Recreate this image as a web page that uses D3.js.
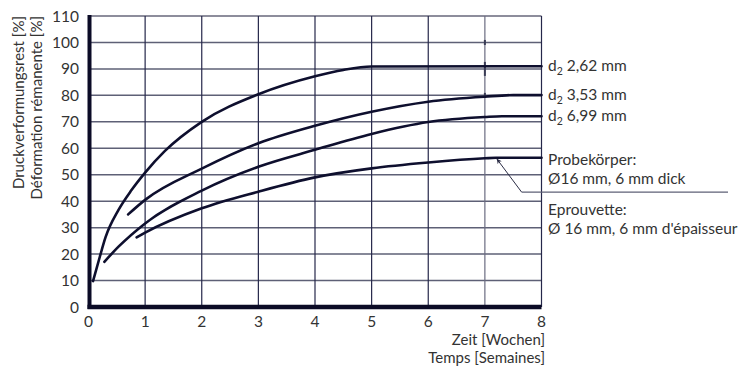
<!DOCTYPE html>
<html>
<head>
<meta charset="utf-8">
<script src="https://cdn.jsdelivr.net/npm/d3@7"></script>
<style>
  body { margin: 0; background: #fff; }
  svg { display: block; }
  text { font-family: Lato, "Open Sans", sans-serif; fill: #333; }
</style>
</head>
<body>
<svg id="chart" width="741" height="372"></svg>
<script>
// values (x in weeks, y in %)
var xTicks = [0, 1, 2, 3, 4, 5, 6, 7, 8];
var yTicks = [0, 10, 20, 30, 40, 50, 60, 70, 80, 90, 100, 110];

var curve262 = [[0.08, 9.8], [0.2, 19], [0.3, 26.3], [0.53, 36.7], [0.76, 44.2], [1, 50.8],
  [1.35, 59], [2, 70], [3, 80.4], [4, 87.2], [4.5, 89.6], [5, 90.9], [8, 91]];
var curve353 = [[0.7, 35], [1, 40.5], [2, 52.3], [3, 61.9], [4, 68.5], [5, 73.8], [6, 77.6],
  [7, 79.5], [7.5, 80.1], [8, 80.1]];
var curve699 = [[0.28, 17.1], [0.53, 22.8], [1, 31.6], [2, 44], [3, 53], [4, 59.4], [5, 65.4],
  [6, 69.9], [7, 71.8], [7.3, 72.1], [8, 72.1]];
var curveProbe = [[0.85, 26.3], [1, 28.1], [2, 37.3], [3, 43.6], [4, 49], [5, 52.4], [6, 54.6],
  [7, 56.2], [7.2, 56.4], [8, 56.4]];

var seriesLabels = ["2,62 mm", "3,53 mm", "6,99 mm"];
var seriesEnds = [91, 80.1, 72.1];
var noteLines = ["Probekörper:", "Ø16 mm, 6 mm dick", "Eprouvette:", "Ø 16 mm, 6 mm d'épaisseur"];
var arrowTip = [7.21, 56];
var arrowElbow = [7.65, 43.4];
var crossMarks = [[7, 100, 2.5], [7, 90, 7], [7, 80, 2.5]];

var svg = d3.select("#chart");
var plotLeft = 88.5, plotTop = 16, plotRight = 541.5, plotBottom = 307;

var x = d3.scaleLinear().domain([0, 8]).range([plotLeft, plotRight]);
var y = d3.scaleLinear().domain([0, 110]).range([plotBottom, plotTop]);

// grid
svg.append("g").selectAll("line")
  .data(yTicks.filter(function (d) { return d > 0; }))
  .enter().append("line")
  .attr("x1", plotLeft).attr("x2", plotRight)
  .attr("y1", function (d) { return y(d); })
  .attr("y2", function (d) { return y(d); })
  .attr("stroke", function (d) { return d === 110 ? "#1c1d3a" : "#5e6076"; })
  .attr("stroke-width", function (d) { return d === 110 ? 1.2 : 1.5; });

svg.append("g").selectAll("line")
  .data(xTicks.filter(function (d) { return d > 0; }))
  .enter().append("line")
  .attr("x1", function (d) { return x(d); })
  .attr("x2", function (d) { return x(d); })
  .attr("y1", plotTop).attr("y2", plotBottom)
  .attr("stroke", function (d) { return d === 7 ? "#6a6c80" : "#25274a"; })
  .attr("stroke-width", 1.2);

// small cross marks on the 7-week line
svg.append("g").selectAll("line")
  .data(crossMarks)
  .enter().append("line")
  .attr("x1", function (d) { return x(d[0]); })
  .attr("x2", function (d) { return x(d[0]); })
  .attr("y1", function (d) { return y(d[1]) - d[2]; })
  .attr("y2", function (d) { return y(d[1]) + d[2]; })
  .attr("stroke", "#3a3c55")
  .attr("stroke-width", 2);

// heavy axes
svg.append("line")
  .attr("x1", plotLeft + 1).attr("x2", plotLeft + 1)
  .attr("y1", plotTop - 1).attr("y2", plotBottom + 2)
  .attr("stroke", "#0b0b26").attr("stroke-width", 4);
svg.append("line")
  .attr("x1", plotLeft - 1).attr("x2", plotRight)
  .attr("y1", plotBottom).attr("y2", plotBottom)
  .attr("stroke", "#0b0b26").attr("stroke-width", 4.5);

// tick labels
svg.append("g").selectAll("text")
  .data(yTicks)
  .enter().append("text")
  .attr("x", 79)
  .attr("y", function (d) { return y(d) + 5.5; })
  .attr("text-anchor", "end")
  .style("font-size", "15.5px")
  .text(function (d) { return d; });

svg.append("g").selectAll("text")
  .data(xTicks)
  .enter().append("text")
  .attr("x", function (d) { return x(d); })
  .attr("y", 327)
  .attr("text-anchor", "middle")
  .style("font-size", "15.5px")
  .text(function (d) { return d; });

// axis titles
svg.append("text").attr("x", 545).attr("y", 345).attr("text-anchor", "end")
  .style("font-size", "15px").text("Zeit [Wochen]");
svg.append("text").attr("x", 545).attr("y", 363).attr("text-anchor", "end")
  .style("font-size", "15px").text("Temps [Semaines]");

var yTitle = svg.append("g").attr("transform", "translate(0,16) rotate(-90)");
yTitle.append("text").attr("x", 0).attr("y", 24).attr("text-anchor", "end")
  .style("font-size", "15px").text("Druckverformungsrest [%]");
yTitle.append("text").attr("x", 0).attr("y", 42).attr("text-anchor", "end")
  .style("font-size", "15px").text("Déformation rémanente [%]");

// curves
var line = d3.line()
  .x(function (d) { return x(d[0]); })
  .y(function (d) { return y(d[1]); })
  .curve(d3.curveMonotoneX);

svg.append("g").selectAll("path")
  .data([curve262, curve353, curve699, curveProbe])
  .enter().append("path")
  .attr("d", line)
  .attr("fill", "none")
  .attr("stroke", "#0e0f2e")
  .attr("stroke-width", 2.6)
  .attr("stroke-linecap", "round");

// series labels
var labelX = 548;
var labels = svg.append("g").selectAll("text")
  .data(seriesLabels)
  .enter().append("text")
  .attr("x", labelX)
  .attr("y", function (d, i) { return y(seriesEnds[i]) + 5; })
  .style("font-size", "15.5px");
labels.append("tspan").text("d");
labels.append("tspan").attr("dy", 4).style("font-size", "10.5px").text("2");
labels.append("tspan").attr("dy", -4).text(function (d) { return " " + d; });

// specimen note
var noteY = [165, 184, 215, 234];
svg.append("g").selectAll("text")
  .data(noteLines)
  .enter().append("text")
  .attr("x", labelX)
  .attr("y", function (d, i) { return noteY[i]; })
  .style("font-size", "15.5px")
  .text(function (d) { return d; });

// leader line with arrow
svg.append("defs").append("marker")
  .attr("id", "arrow")
  .attr("viewBox", "0 0 10 10")
  .attr("refX", 10).attr("refY", 5)
  .attr("markerWidth", 11).attr("markerHeight", 5)
  .attr("markerUnits", "userSpaceOnUse")
  .attr("orient", "auto")
  .append("path")
  .attr("d", "M0,0 L10,5 L0,10 L3,5 Z")
  .attr("fill", "#2a2c44");

svg.append("line")
  .attr("x1", x(arrowElbow[0])).attr("y1", y(arrowElbow[1]))
  .attr("x2", x(arrowTip[0])).attr("y2", y(arrowTip[1]))
  .attr("stroke", "#2a2c44").attr("stroke-width", 1)
  .attr("marker-end", "url(#arrow)");
svg.append("line")
  .attr("x1", x(arrowElbow[0])).attr("y1", y(arrowElbow[1]))
  .attr("x2", 728).attr("y2", y(arrowElbow[1]))
  .attr("stroke", "#5e6076").attr("stroke-width", 1.2);
</script>
</body>
</html>
